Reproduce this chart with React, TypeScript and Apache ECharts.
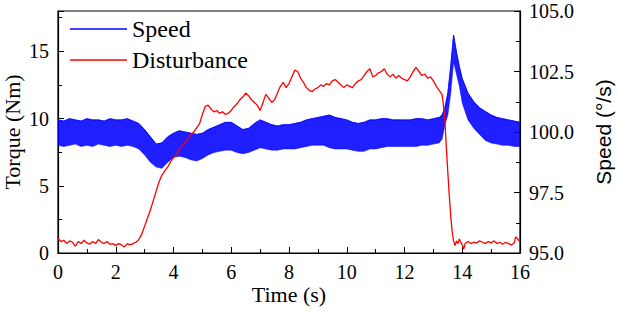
import React, { useEffect, useRef } from "react";
import * as echarts from "echarts";

// Speed (°/s): the measured signal oscillates fast; its band is read as
// an upper and a lower envelope at the sample times below.
const speedTimes = [
  0, 0.2, 0.4, 0.6, 0.8, 1.0, 1.2, 1.4, 1.6, 1.8,
  2.0, 2.2, 2.4, 2.6, 2.8, 3.0, 3.2, 3.4, 3.6, 3.8,
  4.0, 4.2, 4.4, 4.6, 4.8, 5.0, 5.2, 5.4, 5.6, 5.8,
  6.0, 6.2, 6.4, 6.6, 6.8, 7.0, 7.2, 7.4, 7.6, 7.8,
  8.0, 8.2, 8.4, 8.6, 8.8, 9.0, 9.2, 9.4, 9.6, 9.8,
  10.0, 10.2, 10.4, 10.6, 10.8, 11.0, 11.2, 11.4, 11.6, 11.8,
  12.0, 12.2, 12.4, 12.6, 12.8, 13.0, 13.2,
  13.3, 13.4, 13.5, 13.6, 13.7, 13.8, 13.9, 14.0,
  14.2, 14.4, 14.6, 14.8, 15.0, 15.2, 15.4, 15.6, 15.8, 16.0,
];
const speedUpper = [
  100.5, 100.45, 100.55, 100.5, 100.45, 100.55, 100.5, 100.5, 100.45, 100.55,
  100.5, 100.5, 100.55, 100.45, 100.35, 100.1, 99.8, 99.5, 99.55, 99.8,
  99.95, 100.05, 100.0, 99.95, 99.9, 99.95, 100.1, 100.2, 100.3, 100.4,
  100.4, 100.25, 100.1, 100.15, 100.35, 100.5, 100.4, 100.3, 100.25, 100.3,
  100.3, 100.35, 100.4, 100.5, 100.55, 100.6, 100.65, 100.7, 100.6, 100.55,
  100.5, 100.4, 100.35, 100.4, 100.5, 100.5, 100.55, 100.55, 100.5, 100.5,
  100.5, 100.5, 100.55, 100.55, 100.5, 100.55, 100.6,
  100.7, 101.0, 101.6, 102.7, 104.0, 103.3, 102.7, 102.2,
  101.6, 101.25, 101.0, 100.85, 100.7, 100.6, 100.55, 100.5, 100.45, 100.4,
];
const speedLower = [
  99.45, 99.4, 99.45, 99.5, 99.4, 99.45, 99.4, 99.5, 99.45, 99.4,
  99.45, 99.4, 99.45, 99.4, 99.3, 99.05, 98.75, 98.55, 98.5, 98.75,
  98.95, 99.0, 98.95, 98.85, 98.8, 98.9, 99.05, 99.15, 99.2, 99.25,
  99.25, 99.15, 99.1, 99.15, 99.25, 99.35, 99.3, 99.25, 99.25, 99.3,
  99.3, 99.3, 99.35, 99.4, 99.45, 99.45, 99.45, 99.35, 99.3, 99.3,
  99.3, 99.25, 99.2, 99.2, 99.3, 99.3, 99.35, 99.4, 99.4, 99.4,
  99.4, 99.4, 99.4, 99.45, 99.45, 99.5, 99.55,
  99.7, 100.3, 100.7, 101.6, 102.9, 102.4, 101.9, 101.2,
  100.5, 100.15, 99.9, 99.65, 99.55, 99.5, 99.45, 99.45, 99.4, 99.4,
];

// Disturbance torque (Nm): [time (s), value]
const disturbance: [number, number][] = [
  [0, 1.1], [0.1, 0.85], [0.2, 0.95], [0.3, 0.7], [0.4, 0.9], [0.5, 0.8], [0.6, 0.5], [0.7, 0.85],
  [0.8, 0.7], [0.9, 0.95], [1.0, 0.75], [1.1, 0.65], [1.2, 0.85], [1.3, 0.7], [1.4, 1.0], [1.5, 0.8],
  [1.6, 0.7], [1.7, 0.85], [1.8, 0.65], [1.9, 0.7], [2.0, 0.55], [2.1, 0.7], [2.2, 0.6], [2.3, 0.45],
  [2.4, 0.7], [2.5, 0.6], [2.6, 0.7], [2.7, 0.8], [2.8, 1.0], [2.9, 1.4], [3.0, 2.0], [3.1, 2.6],
  [3.2, 3.2], [3.3, 3.9], [3.4, 4.6], [3.5, 5.3], [3.6, 5.8], [3.7, 6.1], [3.8, 6.4], [3.9, 6.8],
  [4.0, 7.1], [4.1, 7.3], [4.2, 7.7], [4.3, 8.0], [4.4, 8.2], [4.5, 8.5], [4.6, 8.8], [4.7, 9.0],
  [4.8, 9.3], [4.9, 9.6], [5.0, 10.3], [5.1, 10.9], [5.2, 11.0], [5.3, 10.7], [5.4, 10.5], [5.5, 10.6],
  [5.6, 10.4], [5.7, 10.5], [5.8, 10.3], [5.9, 10.4], [6.0, 10.6], [6.1, 10.9], [6.2, 11.1], [6.3, 11.4],
  [6.4, 11.6], [6.5, 11.9], [6.6, 11.7], [6.7, 11.4], [6.8, 11.2], [6.9, 11.0], [7.0, 10.6], [7.1, 11.2],
  [7.2, 11.8], [7.3, 11.5], [7.4, 11.2], [7.5, 11.4], [7.6, 11.9], [7.7, 12.4], [7.8, 12.7], [7.9, 12.3],
  [8.0, 12.6], [8.1, 13.1], [8.2, 13.6], [8.3, 13.5], [8.4, 13.0], [8.5, 12.7], [8.6, 12.3], [8.7, 12.1],
  [8.8, 12.0], [8.9, 12.2], [9.0, 12.3], [9.1, 12.5], [9.2, 12.4], [9.3, 12.6], [9.4, 12.5], [9.5, 12.8],
  [9.6, 12.9], [9.7, 12.7], [9.8, 12.5], [9.9, 12.3], [10.0, 12.5], [10.1, 12.4], [10.2, 12.3], [10.3, 12.6],
  [10.4, 12.8], [10.5, 12.9], [10.6, 13.2], [10.7, 13.5], [10.8, 13.7], [10.9, 13.1], [11.0, 13.2], [11.1, 13.4],
  [11.2, 13.5], [11.3, 13.7], [11.4, 13.3], [11.5, 13.1], [11.6, 13.3], [11.7, 13.0], [11.8, 13.2], [11.9, 13.0],
  [12.0, 12.9], [12.1, 12.8], [12.2, 13.1], [12.3, 13.5], [12.4, 13.8], [12.5, 13.5], [12.6, 13.2], [12.7, 13.3],
  [12.8, 13.0], [12.9, 13.1], [13.0, 12.8], [13.1, 12.4], [13.2, 12.1], [13.3, 11.8], [13.35, 11.0], [13.4, 9.8],
  [13.45, 7.8], [13.5, 6.0], [13.55, 4.3], [13.6, 2.8], [13.65, 1.6], [13.7, 0.9], [13.75, 0.55], [13.8, 0.9],
  [13.85, 0.7], [13.9, 1.05], [13.95, 0.8], [14.0, 0.6], [14.05, 0.3], [14.1, 0.7], [14.2, 0.85], [14.3, 0.7],
  [14.4, 0.8], [14.5, 0.75], [14.6, 0.9], [14.7, 0.8], [14.8, 0.7], [14.9, 0.85], [15.0, 0.75], [15.1, 0.9],
  [15.2, 0.7], [15.3, 0.8], [15.4, 0.65], [15.5, 0.8], [15.6, 0.7], [15.7, 0.6], [15.8, 0.75], [15.85, 1.2],
  [15.9, 1.1], [16.0, 0.8],
];

const timeTicks = { min: 0, max: 16, interval: 2 };
const torqueTicks = { min: 0, max: 18, interval: 5 };
const speedTicks = { min: 95, max: 105, interval: 2.5 };

const SERIF = "'Liberation Serif', 'Times New Roman', serif";
const SANS = "'Liberation Sans', Arial, sans-serif";
const BLUE = "#0000ff";
const RED = "#ff0000";

export default function App() {
  const ref = useRef<HTMLDivElement>(null);

  useEffect(() => {
    if (!ref.current) return;
    const chart = echarts.init(ref.current, undefined, { renderer: "svg" });

    const tickLabel = { color: "#000", fontFamily: SERIF, fontSize: 20 };

    chart.setOption({
      animation: false,
      backgroundColor: "#fff",
      grid: {
        left: 58,
        right: 97,
        top: 11,
        bottom: 59,
        show: true,
        borderColor: "#000",
        borderWidth: 1.2,
        outerBoundsMode: "none",
        containLabel: false,
      },
      legend: {
        orient: "vertical",
        left: 70,
        top: 17,
        padding: 0,
        itemWidth: 57,
        itemHeight: 1.5,
        itemGap: 7,
        icon: "rect",
        itemStyle: { borderWidth: 0 },
        textStyle: { fontFamily: SERIF, fontSize: 24, color: "#000", lineHeight: 24 },
        data: ["Speed", "Disturbance"],
      },
      xAxis: {
        type: "value",
        min: timeTicks.min,
        max: timeTicks.max,
        interval: timeTicks.interval,
        name: "Time (s)",
        nameLocation: "middle",
        nameGap: 30,
        nameMoveOverlap: false,
        nameTextStyle: { fontFamily: SERIF, fontSize: 22, color: "#000" },
        axisLine: { lineStyle: { color: "#000", width: 1.2 } },
        axisTick: { inside: true, length: 6, lineStyle: { color: "#000" } },
        minorTick: { show: true, splitNumber: 2, length: 4, lineStyle: { color: "#000" } },
        axisLabel: { ...tickLabel, margin: 9 },
        splitLine: { show: false },
      },
      yAxis: [
        {
          type: "value",
          position: "left",
          min: torqueTicks.min,
          max: torqueTicks.max,
          interval: torqueTicks.interval,
          name: "Torque (Nm)",
          nameLocation: "middle",
          nameRotate: 90,
          nameGap: 35,
          nameMoveOverlap: false,
          nameTextStyle: { fontFamily: SERIF, fontSize: 22, color: "#000" },
          axisLine: { show: true, lineStyle: { color: "#000", width: 1.2 } },
          axisTick: { show: true, inside: true, length: 6, lineStyle: { color: "#000" } },
          axisLabel: {
            ...tickLabel,
            margin: 9,
            formatter: (v: number) => (v % torqueTicks.interval === 0 ? String(v) : ""),
          },
          splitLine: { show: false },
        },
        {
          type: "value",
          position: "right",
          min: speedTicks.min,
          max: speedTicks.max,
          interval: speedTicks.interval,
          name: "Speed (°/s)",
          nameLocation: "middle",
          nameRotate: 90,
          nameGap: 73,
          nameMoveOverlap: false,
          nameTextStyle: { fontFamily: SANS, fontSize: 21, color: "#000" },
          axisLine: { show: true, lineStyle: { color: "#000", width: 1.2 } },
          axisTick: { show: true, inside: true, length: 6, lineStyle: { color: "#000" } },
          minorTick: { show: true, splitNumber: 2, length: 4, lineStyle: { color: "#000" } },
          axisLabel: { ...tickLabel, margin: 9, formatter: (v: number) => v.toFixed(1) },
          splitLine: { show: false },
        },
        {
          // minor ticks for the torque axis
          type: "value",
          position: "left",
          min: torqueTicks.min,
          max: torqueTicks.max,
          interval: torqueTicks.interval / 2,
          axisLine: { show: false },
          axisTick: { show: true, inside: true, length: 4, lineStyle: { color: "#000" } },
          axisLabel: { show: false },
          splitLine: { show: false },
        },
      ],
      series: [
        {
          // upper edge of the speed band (also gives the legend its thin line)
          name: "Speed",
          type: "line",
          yAxisIndex: 1,
          data: speedTimes.map((t, i) => [t, speedUpper[i]]),
          showSymbol: false,
          symbol: "none",
          lineStyle: { color: BLUE, width: 0.8 },
          itemStyle: { color: BLUE },
          z: 2,
        },
        {
          // filled oscillation band between the envelopes
          name: "Speed",
          type: "custom",
          yAxisIndex: 1,
          data: speedTimes.map((t, i) => [t, speedLower[i]]),
          encode: { x: 0, y: 1 },
          itemStyle: { color: BLUE },
          clip: true,
          z: 2,
          renderItem: (params: any, api: any) => {
            if (params.dataIndex !== 0) return null;
            const pts: number[][] = [];
            for (let i = 0; i < speedTimes.length; i++) {
              pts.push(api.coord([speedTimes[i], speedUpper[i]]));
            }
            for (let i = speedTimes.length - 1; i >= 0; i--) {
              pts.push(api.coord([speedTimes[i], speedLower[i]]));
            }
            return {
              type: "polygon",
              shape: { points: pts },
              style: { fill: BLUE, opacity: 0.88, stroke: BLUE, lineWidth: 0.6 },
            };
          },
        },
        {
          name: "Disturbance",
          type: "line",
          yAxisIndex: 0,
          data: disturbance,
          showSymbol: false,
          symbol: "none",
          lineStyle: { color: RED, width: 1.3 },
          itemStyle: { color: RED },
          z: 3,
        },
      ],
    });

    return () => chart.dispose();
  }, []);

  return (
    <div
      ref={ref}
      style={{ position: "absolute", left: 0, top: 0, width: 617, height: 312 }}
    />
  );
}
